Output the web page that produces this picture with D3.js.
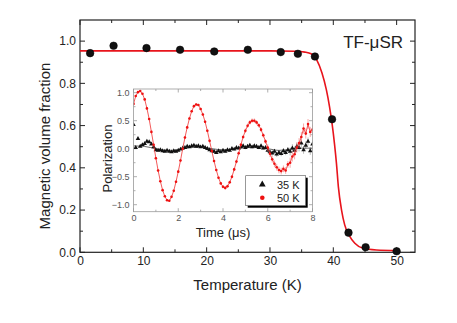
<!DOCTYPE html>
<html>
<head>
<meta charset="utf-8">
<script src="https://cdn.jsdelivr.net/npm/d3@7"></script>
<style>
  html, body { margin: 0; padding: 0; background: #fff; }
  svg { display: block; font-family: "Liberation Sans", Arial, sans-serif; }
</style>
</head>
<body>
<svg id="chart" width="457" height="323"></svg>
<script>
// ---------- Main panel data ----------
const temps = [1.6, 5.3, 10.5, 15.8, 21.2, 26.5, 31.7, 34.4, 37.1, 39.8, 42.4, 45.1, 50.0];
const fractions = [0.943, 0.978, 0.967, 0.959, 0.951, 0.959, 0.948, 0.940, 0.927, 0.630, 0.093, 0.024, 0.005];
// fit curve
const fitTemps = [0, 30, 34, 35.5, 36.5, 37.4, 38.2, 38.9, 39.4, 39.8, 40.2, 40.5, 40.8, 41.3, 41.8, 42.5, 43.4, 44.7, 46.8, 50];
const fitValues = [0.954, 0.954, 0.952, 0.948, 0.94, 0.91, 0.85, 0.77, 0.69, 0.61, 0.51, 0.42, 0.31, 0.20, 0.13, 0.08, 0.043, 0.019, 0.011, 0.008];
const xMajorTicks = [0, 10, 20, 30, 40, 50];
const yMajorTicks = [0.0, 0.2, 0.4, 0.6, 0.8, 1.0];

// ---------- Inset data ----------
const times = [0.0,0.1,0.2,0.3,0.4,0.5,0.6,0.7,0.8,0.9,
  1.0,1.1,1.2,1.3,1.4,1.5,1.6,1.7,1.8,1.9,
  2.0,2.1,2.2,2.3,2.4,2.5,2.6,2.7,2.8,2.9,
  3.0,3.1,3.2,3.3,3.4,3.5,3.6,3.7,3.8,3.9,
  4.0,4.1,4.2,4.3,4.4,4.5,4.6,4.7,4.8,4.9,
  5.0,5.1,5.2,5.3,5.4,5.5,5.6,5.7,5.8,5.9,
  6.0,6.1,6.2,6.3,6.4,6.5,6.6,6.7,6.8,6.9,
  7.0,7.1,7.2,7.3,7.4,7.5,7.6,7.7,7.8,7.9,8.0];
const pol50K = [0.80,0.94,1.01,1.03,0.98,0.88,0.72,0.53,0.30,0.07,
  -0.17,-0.39,-0.58,-0.74,-0.85,-0.92,-0.93,-0.86,-0.75,-0.59,
  -0.41,-0.21,0.00,0.20,0.38,0.54,0.67,0.76,0.79,0.78,
  0.71,0.61,0.48,0.32,0.14,-0.04,-0.22,-0.38,-0.52,-0.62,
  -0.68,-0.70,-0.67,-0.60,-0.50,-0.37,-0.23,-0.08,0.07,0.21,
  0.32,0.41,0.47,0.50,0.50,0.47,0.42,0.34,0.24,0.13,
  0.02,-0.09,-0.19,-0.27,-0.33,-0.38,-0.40,-0.36,-0.39,-0.28,
  -0.25,-0.14,-0.10,0.02,0.10,0.21,0.36,0.27,0.44,0.30,0.34];
const pol35K = [0.43,0.02,0.18,0.04,0.07,0.09,0.13,0.12,0.08,0.03,
  -0.02,-0.03,-0.02,-0.04,-0.05,-0.03,-0.05,-0.06,-0.04,-0.05,
  -0.03,-0.01,0.01,0.02,0.04,0.03,0.05,0.06,0.04,0.05,
  0.03,0.04,0.02,0.00,-0.02,-0.04,-0.05,-0.07,-0.04,-0.06,
  -0.03,-0.05,-0.02,-0.03,0.00,-0.01,0.02,0.01,0.03,0.05,
  0.02,0.04,0.06,0.03,0.05,0.04,0.02,0.05,0.01,0.02,
  -0.03,-0.06,-0.08,-0.05,-0.10,-0.07,-0.09,-0.04,-0.07,-0.02,
  -0.05,0.01,-0.03,0.04,0.02,0.10,-0.02,0.06,0.13,-0.04,0.08];
// error bar half-heights per 1-µs bin
const err50K = [0.015,0.015,0.02,0.02,0.03,0.04,0.06,0.09];
const err35K = [0.01,0.01,0.015,0.02,0.025,0.03,0.045,0.07];
// fit line through the 35 K data
const fit35Times = [0,0.5,1.0,1.5,2.0,2.5,3.0,3.5,4.0,4.5,5.0,5.5,6.0,6.5,7.0,7.5,8.0];
const fit35Values = [0.05,0.04,0.0,-0.03,-0.02,0.02,0.03,0.0,-0.02,-0.01,0.02,0.02,0.0,-0.03,-0.01,0.01,0.01];
const insetXTicks = [0, 2, 4, 6, 8];
const insetYTicks = [-1.0, -0.5, 0.0, 0.5, 1.0];
const legendLabels = ["35 K", "50 K"];

// ---------- Drawing ----------
const svg = d3.select("#chart");
const M = {left: 80, right: 415, top: 20, bottom: 252.3};
const x = d3.scaleLinear().domain([0, 52.9]).range([M.left, M.right]);
const y = d3.scaleLinear().domain([0, 1.1]).range([M.bottom, M.top]);
const axisCol = "#222";

function addAxis(g, axis, major, minor) {
  g.call(axis);
  g.select(".domain").remove();
}
// Main axes with inward ticks
const fmt1 = d3.format(".1f");
const xMinor = d3.range(0, 53, 5);
const yMinor = d3.range(0, 1.1, 0.1);

// minor ticks
[["bottom", M.bottom, -1], ["top", M.top, 1]].forEach(([side, yy, dir]) => {
  svg.append("g").selectAll("line").data(xMinor).join("line")
    .attr("x1", d => x(d)).attr("x2", d => x(d))
    .attr("y1", yy).attr("y2", d => yy + dir * (xMajorTicks.includes(d) ? 5 : 3))
    .attr("stroke", axisCol).attr("stroke-width", 1);
});
[["left", M.left, 1], ["right", M.right, -1]].forEach(([side, xx, dir]) => {
  svg.append("g").selectAll("line").data(yMinor).join("line")
    .attr("y1", d => y(d)).attr("y2", d => y(d))
    .attr("x1", xx).attr("x2", d => xx + dir * ((Math.round(d * 10) % 2 === 0) ? 5 : 3))
    .attr("stroke", axisCol).attr("stroke-width", 1);
});

// tick labels via d3 axes
const gx = svg.append("g").attr("transform", `translate(0,${M.bottom})`)
  .call(d3.axisBottom(x).tickValues(xMajorTicks).tickSize(0).tickPadding(4));
gx.select(".domain").remove();
gx.selectAll("text").attr("font-size", 12).attr("fill", axisCol).attr("font-family", "Liberation Sans, Arial, sans-serif");
const gy = svg.append("g").attr("transform", `translate(${M.left},0)`)
  .call(d3.axisLeft(y).tickValues(yMajorTicks).tickFormat(fmt1).tickSize(0).tickPadding(4));
gy.select(".domain").remove();
gy.selectAll("text").attr("font-size", 12).attr("fill", axisCol).attr("font-family", "Liberation Sans, Arial, sans-serif");

// frame
svg.append("rect").attr("x", M.left).attr("y", M.top)
  .attr("width", M.right - M.left).attr("height", M.bottom - M.top)
  .attr("fill", "none").attr("stroke", axisCol).attr("stroke-width", 1.2);

// axis titles
svg.append("text").attr("x", (M.left + M.right) / 2).attr("y", 290)
  .attr("text-anchor", "middle").attr("font-size", 15).attr("fill", axisCol)
  .text("Temperature (K)");
svg.append("text").attr("transform", `translate(50,${(60 + 232) / 2}) rotate(-90)`)
  .attr("text-anchor", "middle").attr("font-size", 15).attr("fill", axisCol)
  .text("Magnetic volume fraction");
svg.append("text").attr("x", 403).attr("y", 47.5)
  .attr("text-anchor", "end").attr("font-size", 17).attr("fill", axisCol)
  .text("TF-μSR");

// fit curve
const fitData = fitTemps.map((t, i) => [t, fitValues[i]]);
svg.append("path").datum(fitData)
  .attr("d", d3.line().x(d => x(d[0])).y(d => y(d[1])).curve(d3.curveMonotoneX))
  .attr("fill", "none").attr("stroke", "#e8141c").attr("stroke-width", 1.6);

// data points
svg.append("g").selectAll("circle").data(temps.map((t, i) => [t, fractions[i]])).join("circle")
  .attr("cx", d => x(d[0])).attr("cy", d => y(d[1])).attr("r", 3.8)
  .attr("fill", "#111").attr("stroke", "#000").attr("stroke-width", 0.5);

// ---------- Inset ----------
const I = {left: 133.5, right: 312.5, top: 89, bottom: 211.7};
const ix = d3.scaleLinear().domain([0, 8]).range([I.left, I.right]);
const iy = d3.scaleLinear().domain([-1.125, 1.066]).range([I.bottom, I.top]);
const inset = svg.append("g");
inset.append("rect").attr("x", I.left).attr("y", I.top)
  .attr("width", I.right - I.left).attr("height", I.bottom - I.top)
  .attr("fill", "#fff");
const clip = svg.append("clipPath").attr("id", "insetClip").append("rect")
  .attr("x", I.left).attr("y", I.top).attr("width", I.right - I.left).attr("height", I.bottom - I.top);

const insetCol = "#9a9a9a";
const ixMinor = d3.range(0, 8.01, 1);
const iyMinor = d3.range(-1.0, 1.01, 0.25);
[[I.bottom, -1], [I.top, 1]].forEach(([yy, dir]) => {
  inset.append("g").selectAll("line").data(ixMinor).join("line")
    .attr("x1", d => ix(d)).attr("x2", d => ix(d))
    .attr("y1", yy).attr("y2", d => yy + dir * (d % 2 === 0 ? 3.5 : 2))
    .attr("stroke", insetCol).attr("stroke-width", 0.8);
});
[[I.left, 1], [I.right, -1]].forEach(([xx, dir]) => {
  inset.append("g").selectAll("line").data(iyMinor).join("line")
    .attr("y1", d => iy(d)).attr("y2", d => iy(d))
    .attr("x1", xx).attr("x2", d => xx + dir * (Math.abs(Math.round(d * 4)) % 2 === 0 ? 3.5 : 2))
    .attr("stroke", insetCol).attr("stroke-width", 0.8);
});

const igx = inset.append("g").attr("transform", `translate(0,${I.bottom})`)
  .call(d3.axisBottom(ix).tickValues(insetXTicks).tickSize(0).tickPadding(3));
igx.select(".domain").remove();
igx.selectAll("text").attr("font-size", 9).attr("fill", "#555").attr("font-family", "Liberation Sans, Arial, sans-serif");
const igy = inset.append("g").attr("transform", `translate(${I.left},0)`)
  .call(d3.axisLeft(iy).tickValues(insetYTicks).tickFormat(fmt1).tickSize(0).tickPadding(4));
igy.select(".domain").remove();
igy.selectAll("text").attr("font-size", 9).attr("fill", "#555").attr("font-family", "Liberation Sans, Arial, sans-serif");

inset.append("text").attr("x", (I.left + I.right) / 2).attr("y", 236.5)
  .attr("text-anchor", "middle").attr("font-size", 13).attr("fill", axisCol)
  .text("Time (μs)");
inset.append("text").attr("transform", `translate(112,${(125 + 192) / 2}) rotate(-90)`)
  .attr("text-anchor", "middle").attr("font-size", 13).attr("fill", axisCol)
  .text("Polarization");

const plot = inset.append("g").attr("clip-path", "url(#insetClip)");
const d35 = times.map((t, i) => ({t, v: pol35K[i], e: err35K[Math.min(7, Math.floor(t))]}));
const d50 = times.map((t, i) => ({t, v: pol50K[i], e: err50K[Math.min(7, Math.floor(t))]}));

// 35 K
plot.append("g").selectAll("line").data(d35).join("line")
  .attr("x1", d => ix(d.t)).attr("x2", d => ix(d.t))
  .attr("y1", d => iy(d.v - d.e)).attr("y2", d => iy(d.v + d.e))
  .attr("stroke", "#888").attr("stroke-width", 0.6);
plot.append("path").datum(fit35Times.map((t, i) => [t, fit35Values[i]]))
  .attr("d", d3.line().x(d => ix(d[0])).y(d => iy(d[1])).curve(d3.curveMonotoneX))
  .attr("fill", "none").attr("stroke", "#444").attr("stroke-width", 0.8);
plot.append("g").selectAll("path").data(d35).join("path")
  .attr("transform", d => `translate(${ix(d.t)},${iy(d.v)})`)
  .attr("d", d3.symbol(d3.symbolTriangle, 9)())
  .attr("fill", "#111");

// 50 K
plot.append("g").selectAll("line").data(d50).join("line")
  .attr("x1", d => ix(d.t)).attr("x2", d => ix(d.t))
  .attr("y1", d => iy(d.v - d.e)).attr("y2", d => iy(d.v + d.e))
  .attr("stroke", "#f07070").attr("stroke-width", 0.6);
plot.append("path").datum(d50)
  .attr("d", d3.line().x(d => ix(d.t)).y(d => iy(d.v)))
  .attr("fill", "none").attr("stroke", "#f03030").attr("stroke-width", 0.8);
plot.append("g").selectAll("circle").data(d50).join("circle")
  .attr("cx", d => ix(d.t)).attr("cy", d => iy(d.v)).attr("r", 1.3)
  .attr("fill", "#ee1111");

// inset frame
inset.append("rect").attr("x", I.left).attr("y", I.top)
  .attr("width", I.right - I.left).attr("height", I.bottom - I.top)
  .attr("fill", "none").attr("stroke", insetCol).attr("stroke-width", 0.8);

// legend
const L = {x: 245.7, y: 175.7, w: 60, h: 30};
const lg = inset.append("g");
lg.append("rect").attr("x", L.x + 2).attr("y", L.y + 2).attr("width", L.w).attr("height", L.h).attr("fill", "#000");
lg.append("rect").attr("x", L.x).attr("y", L.y).attr("width", L.w).attr("height", L.h)
  .attr("fill", "#fff").attr("stroke", "#555").attr("stroke-width", 0.6);
const legendSymbols = [
  g => g.append("path").attr("d", d3.symbol(d3.symbolTriangle, 20)()).attr("fill", "#111"),
  g => g.append("circle").attr("r", 2.3).attr("fill", "#ee1111")
];
legendLabels.forEach((lab, i) => {
  const yy = 184.5 + i * 13.3;
  const sg = lg.append("g").attr("transform", `translate(262.3,${yy})`);
  legendSymbols[i](sg);
  lg.append("text").attr("x", 277).attr("y", yy + 4).attr("font-size", 11).attr("fill", axisCol).text(lab);
});
</script>
</body>
</html>
